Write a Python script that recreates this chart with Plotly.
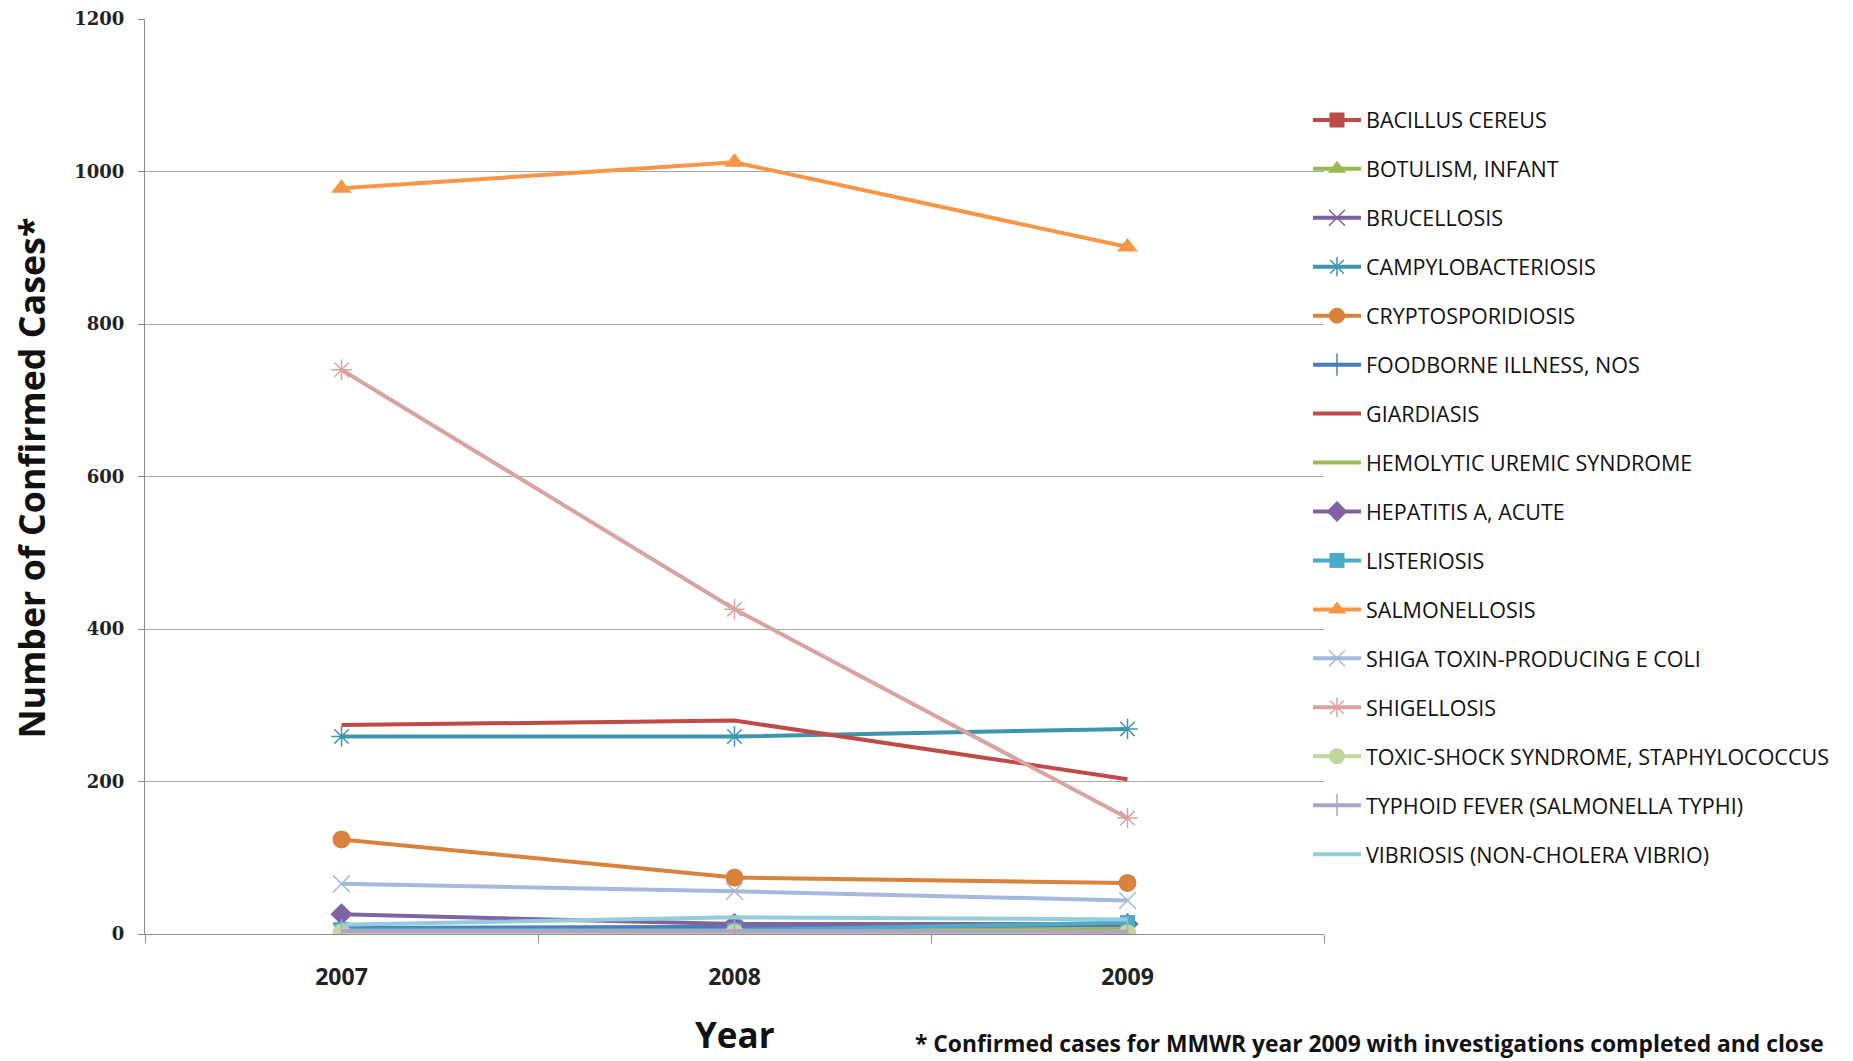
import plotly.graph_objects as go

years = ["2007", "2008", "2009"]

bacillus_cereus = [3, 2, 1]
botulism_infant = [2, 1, 2]
brucellosis = [3, 2, 1]
campylobacteriosis = [259, 259, 269]
cryptosporidiosis = [124, 74, 67]
foodborne_nos = [8, 10, 11]
giardiasis = [274, 280, 203]
hus = [4, 3, 7]
hepatitis_a = [26, 13, 13]
listeriosis = [6, 5, 15]
salmonellosis = [978, 1012, 901]
shiga_ecoli = [66, 56, 44]
shigellosis = [740, 426, 152]
toxic_shock = [2, 2, 1]
typhoid = [4, 3, 3]
vibriosis = [12, 22, 19]

y_ticks = [0, 200, 400, 600, 800, 1000, 1200]

series = [
    ("BACILLUS CEREUS", bacillus_cereus, "#BE4B48", "square"),
    ("BOTULISM, INFANT", botulism_infant, "#98B954", "triangle-up"),
    ("BRUCELLOSIS", brucellosis, "#7D60A0", "x-thin"),
    ("CAMPYLOBACTERIOSIS", campylobacteriosis, "#3E95AE", "asterisk"),
    ("CRYPTOSPORIDIOSIS", cryptosporidiosis, "#D9823B", "circle"),
    ("FOODBORNE ILLNESS, NOS", foodborne_nos, "#4A7EBB", "line-ns"),
    ("GIARDIASIS", giardiasis, "#BE4B48", None),
    ("HEMOLYTIC UREMIC SYNDROME", hus, "#9BBB59", None),
    ("HEPATITIS A, ACUTE", hepatitis_a, "#8064A2", "diamond"),
    ("LISTERIOSIS", listeriosis, "#4BACC6", "square"),
    ("SALMONELLOSIS", salmonellosis, "#F79646", "triangle-up"),
    ("SHIGA TOXIN-PRODUCING E COLI", shiga_ecoli, "#A5B9DC", "x-thin"),
    ("SHIGELLOSIS", shigellosis, "#D9A3A2", "asterisk"),
    ("TOXIC-SHOCK SYNDROME, STAPHYLOCOCCUS", toxic_shock, "#C3D69B", "circle"),
    ("TYPHOID FEVER (SALMONELLA TYPHI)", typhoid, "#B3A2C7", "line-ns"),
    ("VIBRIOSIS (NON-CHOLERA VIBRIO)", vibriosis, "#93CDDD", None),
]

sizes = {"square": 15, "triangle-up": 18, "x-thin": 17, "asterisk": 17,
         "circle": 18, "line-ns": 17, "diamond": 17}

fig = go.Figure()
for i, (name, vals, color, sym) in enumerate(series):
    thin = sym in ("x-thin", "asterisk", "line-ns")
    if sym is None:
        mode = "lines"
        marker = dict()
    else:
        mode = "lines+markers"
        marker = dict(symbol=sym, size=sizes[sym], color=color,
                      line=dict(color=color, width=1.5 if thin else 0))
    fig.add_trace(go.Scatter(
        x=years, y=vals, name=name, mode=mode,
        line=dict(color=color, width=4),
        marker=marker, legendgroup="g%d" % i,
    ))

TXT = "Open Sans, sans-serif"
ML, MR, MT, MB = 145, 529, 19, 127
W, H = 1853, 1061
PLOT_W = W - ML - MR
PLOT_H = H - MT - MB


def px_x(x):
    return (x - ML) / PLOT_W


def px_y(y):
    return 1 - (y - MT) / PLOT_H


fig.update_layout(
    width=W, height=H,
    margin=dict(l=ML, r=MR, t=MT, b=MB, autoexpand=False),
    paper_bgcolor="white", plot_bgcolor="white",
    showlegend=True,
    legend=dict(
        x=px_x(1308), xanchor="left", y=px_y(99.4), yanchor="top",
        font=dict(family=TXT, size=21.5, color="#111"),
        traceorder="grouped", tracegroupgap=18.0,
        itemwidth=48, bgcolor="rgba(0,0,0,0)",
    ),
    xaxis=dict(
        type="category", range=[-0.5, 2.5], automargin=False,
        showline=True, linecolor="#8C8C8C", linewidth=1,
        ticks="outside", tickson="boundaries", ticklen=8, tickcolor="#8C8C8C",
        showgrid=False,
        tickfont=dict(family=TXT, size=23, color="#222", weight="bold"),
        ticklabelstandoff=22,
    ),
    yaxis=dict(
        range=[0, 1200], tickvals=y_ticks, automargin=False,
        showline=True, linecolor="#8C8C8C", linewidth=1,
        ticks="outside", ticklen=6, tickcolor="#8C8C8C",
        showgrid=True, gridcolor="#A6A6A6", gridwidth=1,
        zeroline=False,
        tickfont=dict(family="DejaVu Serif, serif", size=18, color="#222", weight="bold"),
        ticklabelstandoff=10,
    ),
)

# axis titles
fig.add_annotation(
    xref="paper", yref="paper", x=px_x(30.5), y=px_y(478), textangle=-90,
    xanchor="center", yanchor="middle", showarrow=False,
    text="<b>Number of Confirmed Cases*</b>",
    font=dict(family=TXT, size=35.8, color="#111"),
)
fig.add_annotation(
    xref="paper", yref="paper", x=px_x(735), y=px_y(1060), 
    xanchor="center", yanchor="bottom", showarrow=False,
    text="<b>Year</b>",
    font=dict(family=TXT, size=35, color="#111"),
)
# footnote
fig.add_annotation(
    xref="paper", yref="paper", x=px_x(1826), y=px_y(1043.6),
    xanchor="right", yanchor="middle", showarrow=False,
    text="<b>* Confirmed cases for MMWR year 2009 with investigations completed and close</b>",
    font=dict(family=TXT, size=22.8, color="#111"),
)

fig.write_html(
    "out.html",
    config={"displayModeBar": False},
    post_script="document.body.style.margin='0';document.documentElement.style.overflow='hidden';",
)
